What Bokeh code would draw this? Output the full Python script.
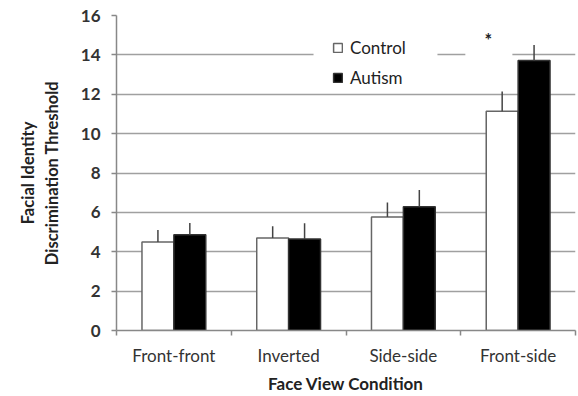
import numpy as np
from bokeh.plotting import figure
from bokeh.models import FixedTicker, Range1d, Label, BoxAnnotation
from bokeh.embed import file_html
from bokeh.resources import INLINE

categories = ["Front-front", "Inverted", "Side-side", "Front-side"]
control_mean = [4.5, 4.7, 5.77, 11.14]
control_err = [0.6, 0.6, 0.73, 1.0]
autism_mean = [4.86, 4.65, 6.28, 13.72]
autism_err = [0.6, 0.8, 0.86, 0.78]
y_ticks = [0, 2, 4, 6, 8, 10, 12, 14, 16]

FONT = "Lato"
bw = 0.278
centers = np.arange(len(categories)) + 0.5
xc = centers - bw / 2
xa = centers + bw / 2

p = figure(width=578, height=396, output_backend="svg", toolbar_location=None,
           x_range=Range1d(0, len(categories)), y_range=Range1d(0, 16),
           min_border_left=116, min_border_right=3, min_border_top=15, min_border_bottom=65)
p.outline_line_color = None
p.background_fill_color = "white"

# grid
p.xgrid.grid_line_color = None
p.ygrid.grid_line_color = "#a0a0a0"
p.ygrid.grid_line_width = 1.5

# bars
p.vbar(x=xc, top=control_mean, width=bw, bottom=0, fill_color="white",
       line_color="#666666", line_width=1.5, legend_label="Control")
p.vbar(x=xa, top=autism_mean, width=bw, bottom=0, fill_color="black",
       line_color="#333333", line_width=1.5, legend_label="Autism")

# error bars (upper only)
p.segment(x0=xc, y0=control_mean, x1=xc,
          y1=[m + e for m, e in zip(control_mean, control_err)],
          line_color="#444444", line_width=1.5)
p.segment(x0=xa, y0=autism_mean, x1=xa,
          y1=[m + e for m, e in zip(autism_mean, autism_err)],
          line_color="#444444", line_width=1.5)

# white patches behind legend / asterisk on the 14 gridline
p.add_layout(BoxAnnotation(left=1.717, right=2.797, bottom=13.7, top=14.3,
                           fill_color="white", fill_alpha=1, line_color=None, level="underlay"))
p.add_layout(BoxAnnotation(left=3.04, right=3.45, bottom=13.7, top=14.3,
                           fill_color="white", fill_alpha=1, line_color=None, level="underlay"))

p.add_layout(Label(x=3.24, y=14.75, text="*", text_font=FONT, text_font_size="18px",
                   text_font_style="bold", text_align="center", text_baseline="middle",
                   text_color="#222222"))

# x axis
xax = p.xaxis[0]
xax.ticker = FixedTicker(ticks=list(centers), minor_ticks=list(range(len(categories) + 1)))
xax.major_label_overrides = {float(c): lab for c, lab in zip(centers, categories)}
xax.major_tick_line_color = None
xax.major_tick_out = 0
xax.major_tick_in = 0
xax.minor_tick_line_color = "#888888"
xax.minor_tick_line_width = 1.5
xax.minor_tick_out = 5
xax.minor_tick_in = 0
xax.axis_line_color = "#888888"
xax.axis_line_width = 1.5
xax.major_label_text_font = FONT
xax.major_label_text_font_size = "17px"
xax.major_label_text_color = "#333333"
xax.major_label_standoff = 9
xax.axis_label = "Face View Condition"
xax.axis_label_text_font = FONT
xax.axis_label_text_font_size = "17px"
xax.axis_label_text_font_style = "bold"
xax.axis_label_text_color = "#222222"
xax.axis_label_standoff = 4

# y axis
yax = p.yaxis[0]
yax.ticker = FixedTicker(ticks=y_ticks)
yax.minor_tick_line_color = None
yax.major_tick_line_color = "#888888"
yax.major_tick_line_width = 1.5
yax.major_tick_out = 5
yax.major_tick_in = 0
yax.axis_line_color = "#888888"
yax.axis_line_width = 1.5
yax.major_label_text_font = FONT
yax.major_label_text_font_size = "17px"
yax.major_label_text_font_style = "bold"
yax.major_label_text_color = "#333333"
yax.major_label_standoff = 11
yax.axis_label = "Facial Identity\nDiscrimination Threshold"
yax.axis_label_text_font = FONT
yax.axis_label_text_font_size = "16.5px"
yax.axis_label_text_font_style = "bold"
yax.axis_label_text_color = "#222222"
yax.axis_label_standoff = 16

# legend
lg = p.legend[0]
lg.location = (216, 242)
lg.background_fill_color = "white"
lg.background_fill_alpha = 1
lg.border_line_color = None
lg.padding = 6
lg.margin = 0
lg.spacing = 9
lg.glyph_width = 11
lg.glyph_height = 11
lg.label_height = 20
lg.label_width = 75
lg.label_standoff = 7
lg.label_text_font = FONT
lg.label_text_font_size = "17px"
lg.label_text_color = "#222222"

open("out.html", "w").write(file_html(p, INLINE))
